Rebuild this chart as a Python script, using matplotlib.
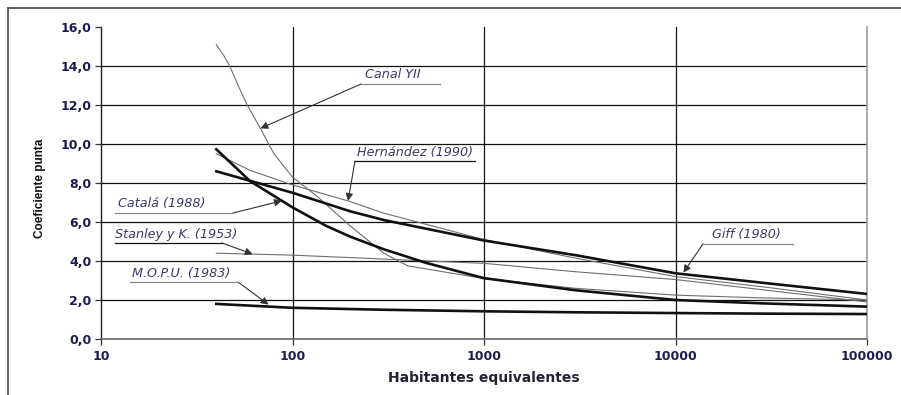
import numpy as np
import matplotlib
matplotlib.use("Agg")
import matplotlib.pyplot as plt
from matplotlib.lines import Line2D

plt.rcParams['font.family'] = ['DejaVu Sans']

# ---- data ----
canal_x = [40, 44, 47, 52, 58, 68, 80, 100, 135, 200, 300, 400, 1000, 3000, 10000, 30000, 100000]
canal_y = [15.1, 14.5, 14.0, 13.0, 12.0, 10.8, 9.5, 8.3, 7.3, 5.8, 4.4, 3.75, 3.1, 2.6, 2.25, 2.1, 2.0]

catala_x = [40, 60, 100, 150, 200, 300, 500, 1000, 3000, 10000, 30000, 100000]
catala_y = [9.73, 8.1, 6.75, 5.8, 5.25, 4.6, 3.9, 3.12, 2.5, 2.0, 1.82, 1.66]

giff_x = [40, 100, 200, 300, 1000, 3000, 10000, 30000, 100000]
giff_y = [8.6, 7.5, 6.55, 6.1, 5.05, 4.3, 3.37, 2.86, 2.31]

hern_x = [40, 60, 100, 200, 300, 1000, 3000, 10000, 30000, 100000]
hern_y = [9.5, 8.65, 7.9, 7.05, 6.45, 5.1, 4.15, 3.2, 2.65, 2.0]

stanley_x = [40, 100, 300, 1000, 3000, 10000, 30000, 100000]
stanley_y = [4.4, 4.3, 4.1, 3.88, 3.45, 3.05, 2.5, 1.9]

mopu_x = [40, 100, 300, 1000, 3000, 10000, 30000, 100000]
mopu_y = [1.8, 1.6, 1.5, 1.42, 1.37, 1.33, 1.3, 1.28]

x_ticks = [10, 100, 1000, 10000, 100000]
x_ticklabels = ["10", "100", "1000", "10000", "100000"]
y_ticks = [0, 2, 4, 6, 8, 10, 12, 14, 16]
y_ticklabels = ["0,0", "2,0", "4,0", "6,0", "8,0", "10,0", "12,0", "14,0", "16,0"]

W, H = 901, 395
fig = plt.figure(figsize=(W / 100, H / 100), dpi=100)
ax = fig.add_axes([101 / W, 1 - 339 / H, (867 - 101) / W, (339 - 27) / H])
ax.set_xscale('log')
ax.set_xlim(10, 100000)
ax.set_ylim(0, 16)

tick_col = '#1c1c50'
lab_col = '#3a3a66'

# grid
for yv in y_ticks[1:-1]:
    ax.axhline(yv, color='#111111', lw=0.9, zorder=1)
for xv in x_ticks[1:-1]:
    ax.axvline(xv, color='#111111', lw=0.9, zorder=1)

thin = dict(color='#6e6e6e', lw=0.8, zorder=3)
thick = dict(color='#111111', lw=1.9, zorder=4)
ax.plot(canal_x, canal_y, **thin)
ax.plot(hern_x, hern_y, **thin)
ax.plot(stanley_x, stanley_y, **thin)
ax.plot(catala_x, catala_y, **thick)
ax.plot(giff_x, giff_y, **thick)
ax.plot(mopu_x, mopu_y, **thick)

ax.minorticks_off()
ax.set_xticks(x_ticks)
ax.set_xticklabels(x_ticklabels)
ax.set_yticks(y_ticks)
ax.set_yticklabels(y_ticklabels)
ax.tick_params(axis='both', direction='out', length=4, width=0.9, color='#333333',
               labelsize=9, labelcolor=tick_col)
for t in ax.get_xticklabels() + ax.get_yticklabels():
    t.set_fontweight('bold')
ax.tick_params(axis='x', pad=4)
ax.tick_params(axis='y', pad=3)

ax.spines['top'].set_visible(False)
ax.spines['left'].set_color('#222222')
ax.spines['left'].set_linewidth(1.0)
ax.spines['bottom'].set_color('#666666')
ax.spines['bottom'].set_linewidth(1.2)
ax.spines['right'].set_color('#999999')
ax.spines['right'].set_linewidth(1.2)

fig.text(484 / W, 1 - 378 / H, "Habitantes equivalentes", ha='center', va='center',
         fontsize=10, fontweight='bold', color='#222233')
fig.text(40 / W, 1 - 188 / H, "Coeficiente punta", ha='center', va='center',
         rotation=90, fontsize=8.5, fontweight='bold', color='#111111',
         family=['Liberation Sans Narrow', 'Liberation Sans'])

# outer frame
fig.add_artist(Line2D([8 / W, 1.0], [1 - 8 / H, 1 - 8 / H], transform=fig.transFigure,
                      color='#555555', lw=1.3))
fig.add_artist(Line2D([8 / W, 8 / W], [1 - 8 / H, 0], transform=fig.transFigure,
                      color='#555555', lw=1.3))


def on_curve(xs, ys, xq):
    return float(np.interp(np.log10(xq), np.log10(xs), ys))


def label(text, tx, ty, ul, ul_col, start, tip_x, xs, ys, dy=0.0):
    # tx, ty, ul (x0,x1,y), start (x,y) are in top-left pixel coords
    fig.text(tx / W, 1 - ty / H, text, ha='left', va='center', fontsize=9.2,
             style='italic', color=lab_col)
    fig.add_artist(Line2D([ul[0] / W, ul[1] / W], [1 - ul[2] / H, 1 - ul[2] / H],
                          transform=fig.transFigure, color=ul_col, lw=0.9))
    tip = (tip_x, on_curve(xs, ys, tip_x) + dy)
    ax.annotate('', xy=tip, xycoords='data',
                xytext=(start[0], H - start[1]), textcoords='figure pixels',
                arrowprops=dict(arrowstyle='-|>', color='#333333', lw=0.8,
                                mutation_scale=11, shrinkA=0, shrinkB=0),
                annotation_clip=False, zorder=6)


label("Canal YII", 365, 75, (361, 440, 84), '#888888', (361, 84), 68, canal_x, canal_y)
label("Hernández (1990)", 357, 152, (355, 475, 161), '#111111', (355, 161), 195, hern_x, hern_y)
label("Catalá (1988)", 118, 204, (115, 233, 213), '#888888', (233, 213), 88, catala_x, catala_y)
label("Stanley y K. (1953)", 115, 235, (115, 222, 243), '#111111', (222, 243), 62, stanley_x, stanley_y)
label("M.O.P.U. (1983)", 132, 274, (130, 238, 282), '#888888', (238, 282), 75, mopu_x, mopu_y, dy=0.1)
label("Giff (1980)", 712, 234, (703, 793, 244), '#888888', (703, 244), 11000, giff_x, giff_y, dy=0.08)

fig.savefig("out.png", dpi=100)
